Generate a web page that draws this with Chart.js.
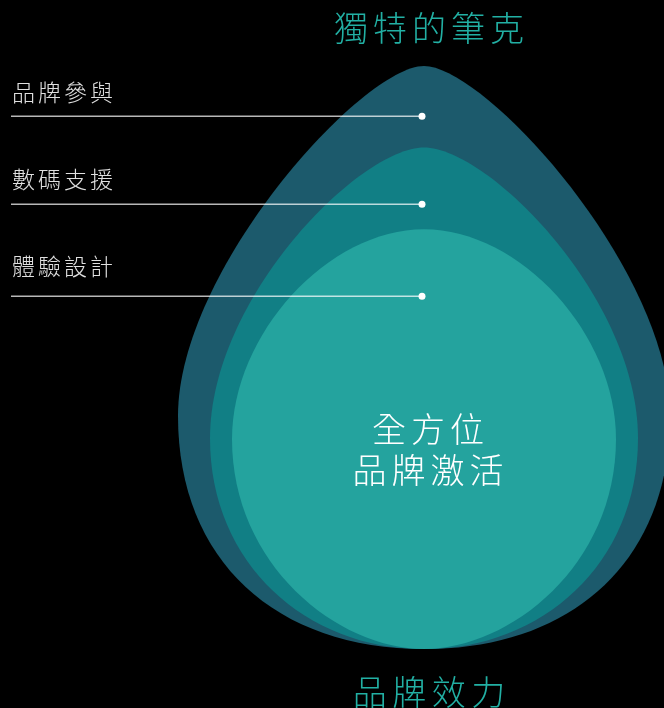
<!DOCTYPE html>
<html>
<head>
<meta charset="utf-8">
<script src="https://cdn.jsdelivr.net/npm/chart.js@4.4.1/dist/chart.umd.min.js"></script>
<style>
  html, body { margin: 0; padding: 0; background: #000; }
  #wrap { width: 664px; height: 708px; position: relative; }
</style>
</head>
<body>
<div id="wrap"><canvas id="grafico"></canvas></div>
<script>
// Dados do gráfico
const categorias = ['品牌激活'];
const camadas = ['品牌參與', '數碼支援', '體驗設計'];
const valoresCamadas = [100, 86, 72];
const valoresMarcadores = [91.4, 76.3, 60.5];
const tituloTopo = '獨特的筆克';
const tituloBase = '品牌效力';
const textoCentro = ['全方位', '品牌激活'];

// Estilo
const coresCamadas = ['#1c5a6c', '#117f85', '#24a39e'];
const largurasCamadas = [492, 428, 384];
const formas = [
    { a: 0.25, b: 0.35, c: 0.6, d: 0.25, e: 0.6 },
    { a: 0.3, b: 0.3, c: 0.58, d: 0.25, e: 0.55 },
    { a: 0.5, b: 0.25, c: 0.5, d: 0.3, e: 0.45 }
];
const deslocRotulos = [24, 25, 30];
const fonte = "'Noto Sans CJK TC', 'Noto Sans CJK SC', 'Noto Sans', sans-serif";
const corTeal = '#22b0a4';

function caminhoGota(ctx, cx, topo, base, meia, s) {
    const h = base - topo;
    const X = u => cx + u * meia;
    const Y = v => topo + v * h;
    ctx.beginPath();
    ctx.moveTo(X(0), Y(0));
    ctx.bezierCurveTo(X(s.a), Y(0), X(1), Y(s.b), X(1), Y(s.c));
    ctx.bezierCurveTo(X(1), Y(s.c + s.d), X(s.e), Y(1), X(0), Y(1));
    ctx.bezierCurveTo(X(-s.e), Y(1), X(-1), Y(s.c + s.d), X(-1), Y(s.c));
    ctx.bezierCurveTo(X(-1), Y(s.b), X(-s.a), Y(0), X(0), Y(0));
    ctx.closePath();
}

function textoEspacado(ctx, txt, x, y, tam, cor, espaco, alinhar) {
    ctx.save();
    ctx.font = `300 ${tam}px ${fonte}`;
    ctx.fillStyle = cor;
    ctx.textBaseline = 'middle';
    ctx.textAlign = 'left';
    const chars = Array.from(txt);
    const larg = chars.reduce((t, c) => t + ctx.measureText(c).width, 0) + espaco * (chars.length - 1);
    let px = alinhar === 'center' ? x - larg / 2 : x;
    chars.forEach(c => {
        ctx.fillText(c, px, y);
        px += ctx.measureText(c).width + espaco;
    });
    ctx.restore();
}

const pluginGotas = {
    id: 'gotas',
    // desenha as gotas no lugar das barras
    beforeDatasetsDraw(chart) {
        const ctx = chart.ctx;
        chart.data.datasets.forEach((ds, i) => {
            const meta = chart.getDatasetMeta(i);
            meta.data.forEach(el => {
                const p = el.getProps(['x', 'y', 'base', 'width'], true);
                ctx.save();
                caminhoGota(ctx, p.x, p.y, p.base, p.width / 2, formas[i]);
                ctx.fillStyle = ds.backgroundColor;
                ctx.fill();
                ctx.restore();
            });
        });
        return false;
    },
    afterDraw(chart) {
        const ctx = chart.ctx;
        const area = chart.chartArea;
        const y = chart.scales.y;
        const cx = chart.scales.x.getPixelForValue(0);

        // linhas e pontos
        valoresMarcadores.forEach((v, i) => {
            const py = y.getPixelForValue(v);
            ctx.save();
            ctx.strokeStyle = 'rgba(255,255,255,0.72)';
            ctx.lineWidth = 1.5;
            ctx.beginPath();
            ctx.moveTo(11, py);
            ctx.lineTo(cx - 2, py);
            ctx.stroke();
            ctx.fillStyle = '#fff';
            ctx.beginPath();
            ctx.arc(cx - 2, py, 3.5, 0, Math.PI * 2);
            ctx.fill();
            ctx.restore();
            textoEspacado(ctx, camadas[i], 12, py - deslocRotulos[i], 23, 'rgba(255,255,255,0.88)', 3, 'left');
        });

        // textos
        textoEspacado(ctx, tituloTopo, cx + 5, area.top - 38, 34, corTeal, 5, 'center');
        textoEspacado(ctx, tituloBase, cx + 5, area.bottom + 43, 34, corTeal, 5.5, 'center');
        textoEspacado(ctx, textoCentro[0], cx + 4, area.bottom - 220, 34, '#fff', 5, 'center');
        textoEspacado(ctx, textoCentro[1], cx + 4, area.bottom - 179, 34, '#fff', 5, 'center');
    }
};

new Chart(document.getElementById('grafico'), {
    type: 'bar',
    data: {
        labels: categorias,
        datasets: camadas.map((nome, i) => ({
            label: nome,
            data: [valoresCamadas[i]],
            backgroundColor: coresCamadas[i],
            barThickness: largurasCamadas[i],
            grouped: false,
            order: i
        }))
    },
    options: {
        responsive: true,
        maintainAspectRatio: false,
        animation: false,
        layout: { padding: { top: 66, bottom: 59, left: 184, right: 0 } },
        scales: {
            x: { display: false },
            y: { display: false, min: 0, max: 100 }
        },
        plugins: {
            legend: { display: false },
            tooltip: { enabled: false }
        }
    },
    plugins: [pluginGotas]
});
</script>
</body>
</html>
